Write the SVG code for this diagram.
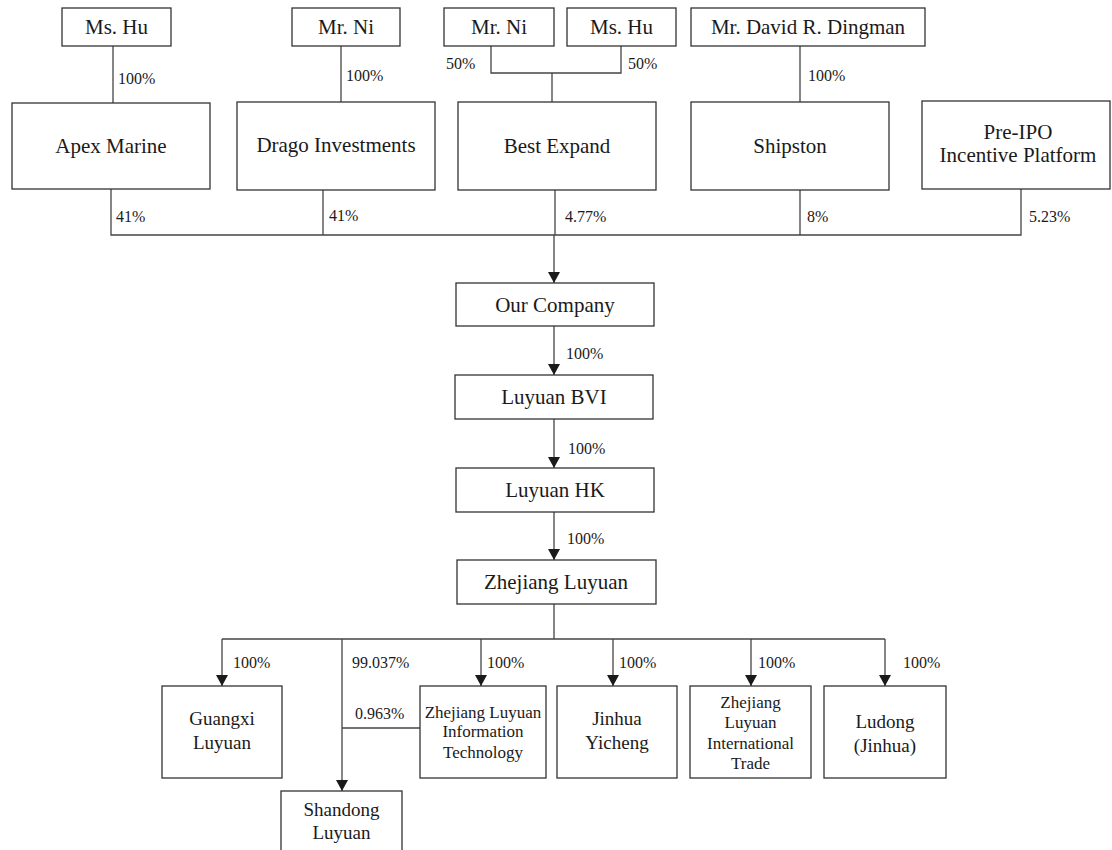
<svg xmlns="http://www.w3.org/2000/svg" width="1112" height="850" viewBox="0 0 1112 850">
<style>
.box{fill:#fff;stroke:#333;stroke-width:1.3}
.t{font-family:"Liberation Serif","Times New Roman",serif;fill:#1a1a1a;text-anchor:middle}
.m{font-size:21px}
.s{font-size:19px}
.xs{font-size:17px}
.p{font-family:"Liberation Serif","Times New Roman",serif;fill:#1a1a1a;font-size:16px}
.ln{fill:none;stroke:#444;stroke-width:1.3}
</style>
<defs>
<marker id="ah" markerUnits="userSpaceOnUse" markerWidth="11" markerHeight="12" refX="11" refY="6" orient="auto" viewBox="0 0 11 12">
<path d="M0,0 L11,6 L0,12 Z" fill="#1a1a1a"/>
</marker>
</defs>
<rect width="1112" height="850" fill="#fff"/>

<g id="connectors">
<path class="ln" d="M113,46 V103"/>
<path class="ln" d="M341,46 V102"/>
<path class="ln" d="M491,46 V73 H621 V46"/>
<path class="ln" d="M552,73 V102"/>
<path class="ln" d="M800,46 V102"/>
<path class="ln" d="M111,189 V235 H1021 V189"/>
<path class="ln" d="M323,190 V235"/>
<path class="ln" d="M555,190 V235"/>
<path class="ln" d="M800,190 V235"/>
<path class="ln" d="M554,235 V283" marker-end="url(#ah)"/>
<path class="ln" d="M554,326 V375" marker-end="url(#ah)"/>
<path class="ln" d="M554,419 V468" marker-end="url(#ah)"/>
<path class="ln" d="M554,512 V560" marker-end="url(#ah)"/>
<path class="ln" d="M554,604 V639"/>
<path class="ln" d="M222,639 H885"/>
<path class="ln" d="M222,639 V686" marker-end="url(#ah)"/>
<path class="ln" d="M342,639 V791" marker-end="url(#ah)"/>
<path class="ln" d="M481,639 V686" marker-end="url(#ah)"/>
<path class="ln" d="M613,639 V686" marker-end="url(#ah)"/>
<path class="ln" d="M751,639 V686" marker-end="url(#ah)"/>
<path class="ln" d="M885,639 V686" marker-end="url(#ah)"/>
<path class="ln" d="M342,728 H420"/>
<text class="p" x="118" y="84">100%</text>
<text class="p" x="346" y="81">100%</text>
<text class="p" x="446" y="69">50%</text>
<text class="p" x="628" y="69">50%</text>
<text class="p" x="808" y="81">100%</text>
<text class="p" x="116" y="222">41%</text>
<text class="p" x="329" y="221">41%</text>
<text class="p" x="565" y="222">4.77%</text>
<text class="p" x="807" y="222">8%</text>
<text class="p" x="1029" y="222">5.23%</text>
<text class="p" x="566" y="359">100%</text>
<text class="p" x="568" y="454">100%</text>
<text class="p" x="567" y="544">100%</text>
<text class="p" x="233" y="668">100%</text>
<text class="p" x="352" y="668">99.037%</text>
<text class="p" x="487" y="668">100%</text>
<text class="p" x="619" y="668">100%</text>
<text class="p" x="758" y="668">100%</text>
<text class="p" x="903" y="668">100%</text>
<text class="p" x="355" y="719">0.963%</text>
</g>

<g id="n-mshu1"><rect class="box" x="62" y="8" width="109" height="38"/><text class="t m" x="116.5" y="34">Ms. Hu</text></g>
<g id="n-mrni1"><rect class="box" x="292" y="8" width="108" height="38"/><text class="t m" x="346" y="34">Mr. Ni</text></g>
<g id="n-mrni2"><rect class="box" x="444" y="8" width="110" height="38"/><text class="t m" x="499" y="34">Mr. Ni</text></g>
<g id="n-mshu2"><rect class="box" x="567" y="8" width="109" height="38"/><text class="t m" x="621.5" y="34">Ms. Hu</text></g>
<g id="n-dingman"><rect class="box" x="691" y="8" width="234" height="38"/><text class="t m" x="808" y="34">Mr. David R. Dingman</text></g>

<g id="n-apex"><rect class="box" x="12" y="103" width="198" height="86"/><text class="t m" x="111" y="153">Apex Marine</text></g>
<g id="n-drago"><rect class="box" x="237" y="102" width="198" height="88"/><text class="t m" x="336" y="152">Drago Investments</text></g>
<g id="n-best"><rect class="box" x="458" y="102" width="198" height="88"/><text class="t m" x="557" y="153">Best Expand</text></g>
<g id="n-shipston"><rect class="box" x="691" y="102" width="198" height="88"/><text class="t m" x="790" y="153">Shipston</text></g>
<g id="n-preipo"><rect class="box" x="922" y="101" width="188" height="88"/><text class="t m" x="1018" y="139">Pre-IPO</text><text class="t m" x="1018" y="162">Incentive Platform</text></g>

<g id="n-ourco"><rect class="box" x="456" y="283" width="198" height="43"/><text class="t m" x="555" y="312">Our Company</text></g>
<g id="n-bvi"><rect class="box" x="455" y="375" width="198" height="44"/><text class="t m" x="554" y="404">Luyuan BVI</text></g>
<g id="n-hk"><rect class="box" x="456" y="468" width="198" height="44"/><text class="t m" x="555" y="497">Luyuan HK</text></g>
<g id="n-zhejiang"><rect class="box" x="457" y="560" width="199" height="44"/><text class="t m" x="556" y="589">Zhejiang Luyuan</text></g>

<g id="n-guangxi"><rect class="box" x="162" y="686" width="120" height="92"/><text class="t s" x="222" y="725">Guangxi</text><text class="t s" x="222" y="749">Luyuan</text></g>
<g id="n-shandong"><rect class="box" x="281" y="791" width="121" height="70"/><text class="t s" x="341.5" y="816">Shandong</text><text class="t s" x="341.5" y="839">Luyuan</text></g>
<g id="n-infotech"><rect class="box" x="420" y="686" width="126" height="92"/><text class="t xs" x="483" y="718">Zhejiang Luyuan</text><text class="t xs" x="483" y="737">Information</text><text class="t xs" x="483" y="758">Technology</text></g>
<g id="n-jinhua"><rect class="box" x="557" y="686" width="120" height="92"/><text class="t s" x="617" y="725">Jinhua</text><text class="t s" x="617" y="749">Yicheng</text></g>
<g id="n-intl"><rect class="box" x="690" y="686" width="121" height="92"/><text class="t xs" x="750.5" y="708">Zhejiang</text><text class="t xs" x="750.5" y="728">Luyuan</text><text class="t xs" x="750.5" y="749">International</text><text class="t xs" x="750.5" y="769">Trade</text></g>
<g id="n-ludong"><rect class="box" x="824" y="686" width="122" height="92"/><text class="t s" x="885" y="728">Ludong</text><text class="t s" x="885" y="752">(Jinhua)</text></g>
</svg>
